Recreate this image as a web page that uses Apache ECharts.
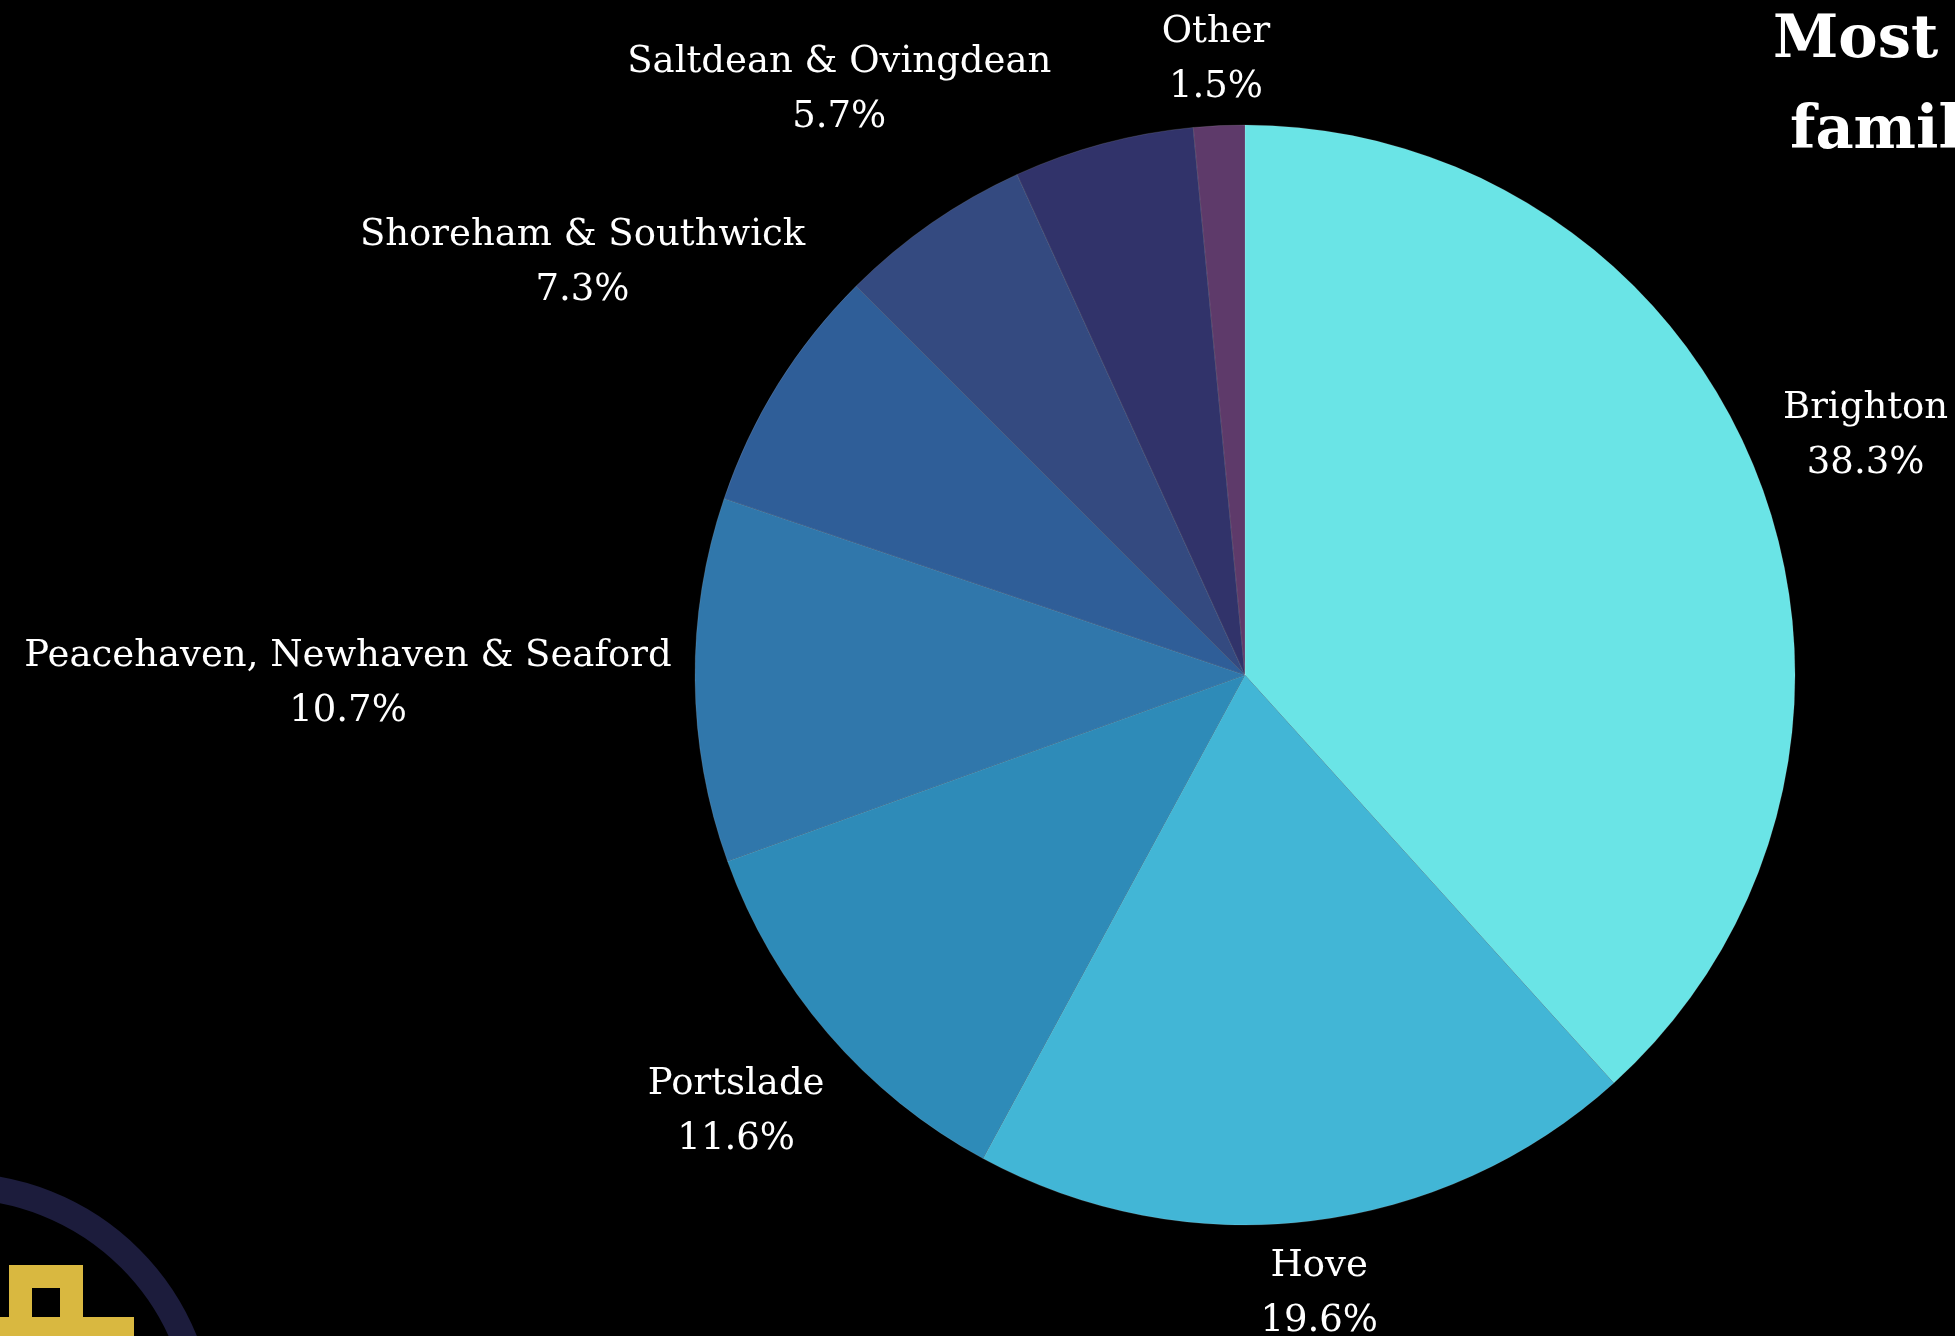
<!DOCTYPE html>
<html>
<head>
<meta charset="utf-8">
<script src="https://cdn.jsdelivr.net/npm/echarts@6/dist/echarts.min.js"></script>
<style>
html,body{margin:0;padding:0;background:#000;}
#chart{width:1955px;height:1336px;}
</style>
</head>
<body>
<div id="chart"></div>
<script>
// ---- data ----
const categories = ["Brighton", "Hove", "Portslade", "Peacehaven, Newhaven & Seaford", "Shoreham & Southwick", "Saltdean & Ovingdean", "Rottingdean", "Other"];
const values = [38.3, 19.6, 11.6, 10.7, 7.3, 5.7, 5.3, 1.5];
const showLabel = [true, true, true, true, true, true, false, true];

// ---- style ----
const colors = ["#6ae4e6", "#42b6d6", "#2e8bb8", "#3077ab", "#2f5e98", "#344a80", "#31336a", "#5e3a6a"];
const labelDist = [115, 73, 121, 347, 230, 162, 100, 66]; // distance of label centre beyond the rim
const CX = 1245, CY = 675, R = 550;

const total = values.reduce((a, b) => a + b, 0);
const midAngles = [];
let acc = 0;
values.forEach(v => { midAngles.push((acc + v / 2) / total * 2 * Math.PI); acc += v; });

const chart = echarts.init(document.getElementById('chart'), null, {renderer: 'canvas'});
chart.setOption({
  backgroundColor: '#000000',
  animation: false,
  graphic: [
    {type: 'circle', shape: {cx: -45, cy: 1434, r: 248}, style: {fill: 'none', stroke: '#1c1c3c', lineWidth: 26}, z: 1},
    {type: 'rect', shape: {x: 9, y: 1265, width: 74, height: 52}, style: {fill: '#d9b840'}, z: 2},
    {type: 'rect', shape: {x: 32, y: 1288, width: 28, height: 29}, style: {fill: '#000000'}, z: 3},
    {type: 'rect', shape: {x: 0, y: 1317, width: 134, height: 30}, style: {fill: '#d9b840'}, z: 2},
    {type: 'text', left: 1773, top: 12, style: {text: 'Most popular', fill: '#ffffff', font: 'bold 59px "DejaVu Serif"'}, z: 5},
    {type: 'text', left: 1790, top: 103, style: {text: 'family areas', fill: '#ffffff', font: 'bold 59px "DejaVu Serif"'}, z: 5}
  ],
  series: [{
    type: 'pie',
    center: [CX, CY],
    radius: [0, R],
    startAngle: 90,
    clockwise: true,
    avoidLabelOverlap: false,
    itemStyle: {borderColor: 'rgba(255,255,255,0.12)', borderWidth: 1},
    label: {
      show: true,
      position: 'outside',
      color: '#ffffff',
      fontFamily: '"DejaVu Serif", serif',
      fontSize: 37,
      lineHeight: 55,
      formatter: p => p.name + '\n' + p.value.toFixed(1) + '%'
    },
    labelLine: {show: false},
    labelLayout: function (params) {
      const i = params.dataIndex;
      const a = midAngles[i];
      const d = R + labelDist[i];
      return {
        x: CX + d * Math.sin(a),
        y: CY - d * Math.cos(a),
        align: 'center',
        verticalAlign: 'middle'
      };
    },
    data: categories.map((c, i) => ({
      name: c,
      value: values[i],
      itemStyle: {color: colors[i]},
      label: {show: showLabel[i]}
    }))
  }]
});
</script>
</body>
</html>
